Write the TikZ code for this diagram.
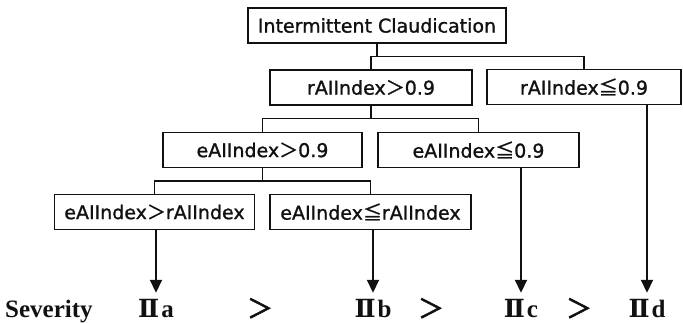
\documentclass[tikz,border=0pt]{standalone}
\usepackage{fontspec}
\usepackage{tikz}
\usetikzlibrary{calc,arrows.meta}
\definecolor{FigureInk}{HTML}{111111}
\newfontfamily\BoxFont[FakeBold=1.2]{DejaVu Sans}
\newfontfamily\SymbolFont[FakeBold=1.2]{Noto Sans CJK JP}
\newfontfamily\OrderFont[FakeBold=2.5]{Noto Sans CJK JP}
\newfontfamily\SeverityFont{Liberation Serif}
\newfontfamily\NumeralFont{DejaVu Serif}
\newcommand{\BoxLabel}{\BoxFont\fontsize{19}{21}\selectfont}
\newcommand{\SeverityLabel}{\SeverityFont\bfseries\fontsize{25}{27}\selectfont}
\newcommand{\OrderLabel}{\OrderFont\fontsize{26}{28}\selectfont}
\newcommand{\BoxGreater}{{\SymbolFont ＞}}
\newcommand{\BoxLessEq}{{\SymbolFont ≦}}
\newcommand{\StageTwo}{{\NumeralFont\bfseries Ⅱ}\kern2pt}
\tikzset{
  decision box/.style={draw=FigureInk,line width=1.3pt,minimum height=35pt,inner sep=0pt,text=FigureInk,font=\BoxLabel},
  branch line/.style={draw=FigureInk,line width=1.2pt},
  severity arrow/.style={draw=FigureInk,line width=1.8pt,shorten >=8pt,-{Triangle[length=13pt,width=12pt]}},
  severity label/.style={anchor=base,inner sep=0pt,text height=17pt,text=FigureInk,font=\SeverityLabel}
}

\begin{document}
\begin{tikzpicture}[x=1pt,y=1pt]
  % one unit = one pixel of the 683 x 323 figure
  \path[use as bounding box] (0,0) rectangle (683,323);

  \newcommand{\decision}[5]{%
    \node[decision box,minimum width=#4] (#1) at (#2,#3) {#5};%
  }
  \decision{claud}{377}{297.5}{258}{Intermittent Claudication}
  \decision{rhigh}{371}{235.5}{202}{rAIIndex\BoxGreater 0.9}
  \decision{rlow}{584}{236}{194}{rAIIndex\BoxLessEq 0.9}
  \decision{ehigh}{262.5}{173}{199}{eAIIndex\BoxGreater 0.9}
  \decision{elow}{478.5}{173}{201}{eAIIndex\BoxLessEq 0.9}
  \decision{egtr}{154.5}{111}{200}{eAIIndex\BoxGreater rAIIndex}
  \decision{eler}{370.5}{111}{201}{eAIIndex\BoxLessEq rAIIndex}

  \newcommand{\branch}[3]{%
    \coordinate (#1 join) at ($(#1.south)!0.5!(#2.north)$);%
    \draw[branch line] (#1.south) -- (#1.south |- #1 join);%
    \draw[branch line] (#2.north) |- (#1 join) -| (#3.north);%
  }
  \branch{claud}{rhigh}{rlow}
  \branch{rhigh}{ehigh}{elow}
  \branch{ehigh}{egtr}{eler}

  \node[severity label,anchor=base west] (severity) at (5,5) {Severity};
  \node[severity label] (stagea) at (156,5) {\StageTwo a};
  \node[severity label] (stageb) at (373,5) {\StageTwo b};
  \node[severity label] (stagec) at (521,5) {\StageTwo c};
  \node[severity label] (staged) at (647,5) {\StageTwo d};
  \node[severity label,font=\OrderLabel] (order1) at (260,5) {＞};
  \node[severity label,font=\OrderLabel] (order2) at (431,5) {＞};
  \node[severity label,font=\OrderLabel] (order3) at (579,5) {＞};

  \draw[severity arrow] (stagea |- egtr.south) -- (stagea.north);
  \draw[severity arrow] (stageb |- eler.south) -- (stageb.north);
  \draw[severity arrow] (stagec |- elow.south) -- (stagec.north);
  \draw[severity arrow] (staged |- rlow.south) -- (staged.north);
\end{tikzpicture}
\end{document}
